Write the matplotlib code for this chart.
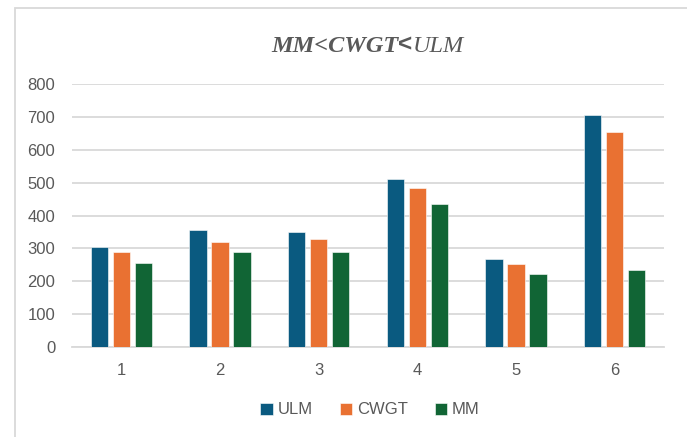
import numpy as np
import matplotlib
matplotlib.use("Agg")
import matplotlib.pyplot as plt
from matplotlib.patches import Rectangle
from matplotlib.offsetbox import TextArea, HPacker, AnnotationBbox

categories = ["1", "2", "3", "4", "5", "6"]
ulm = [305, 356, 349, 512, 266, 706]
cwgt = [290, 320, 328, 485, 252, 655]
mm = [254, 288, 290, 434, 222, 234]

series = [("ULM", ulm, "#0A5A80"), ("CWGT", cwgt, "#E97132"), ("MM", mm, "#116535")]

plt.rcParams['font.family'] = ['Liberation Sans', 'DejaVu Sans']
text_grey = "#595959"
grid_grey = "#D9D9D9"

fig = plt.figure(figsize=(6.87, 4.37), dpi=100)
ax = fig.add_axes([72/687, 1 - 346.7/437, (664 - 72)/687, (346.7 - 84.3)/437])

x = np.arange(len(categories))
width = 0.173
step = 0.223
for i, (name, vals, col) in enumerate(series):
    ax.bar(x + (i - 1)*step, vals, width, color=col, label=name,
           edgecolor="white", linewidth=0.4, zorder=3)

ax.set_xlim(-0.5, len(categories) - 0.5)
ax.set_ylim(0, 800)
ax.set_yticks(range(0, 801, 100))
ax.set_xticks(x)
ax.set_xticklabels(categories)
ax.yaxis.grid(True, color=grid_grey, linewidth=1.3, zorder=0)
for s in ["top", "right", "left"]:
    ax.spines[s].set_visible(False)
ax.spines["bottom"].set_color(grid_grey)
ax.spines["bottom"].set_linewidth(1.3)
ax.tick_params(axis="both", length=0, labelsize=12, labelcolor=text_grey)
ax.tick_params(axis="y", pad=12)
ax.tick_params(axis="x", pad=12)

leg = fig.legend(loc="center", bbox_to_anchor=(370/687, 1 - 410/437), ncol=3,
                 frameon=False, fontsize=12, handlelength=0.75, handleheight=0.75,
                 handletextpad=0.3, columnspacing=1.6)
for t in leg.get_texts():
    t.set_color(text_grey)

# title with mixed styles
serif = ['Liberation Serif', 'DejaVu Serif']
p1 = TextArea("MM<CWGT", textprops=dict(family=serif, style="italic", weight="bold",
                                        size=17.5, color=text_grey))
p2 = TextArea("<", textprops=dict(family=['Liberation Sans'], weight="bold",
                                  size=17.5, color=text_grey))
p3 = TextArea("ULM", textprops=dict(family=serif, style="italic",
                                    size=17.5, color=text_grey))
box = HPacker(children=[p1, p2, p3], pad=0, sep=0, align="baseline")
ab = AnnotationBbox(box, (367.5/687, 1 - 45/437), xycoords="figure fraction",
                    frameon=False, box_alignment=(0.5, 0.5))
fig.add_artist(ab)

# chart area border
fig.add_artist(Rectangle((15/687, -0.05), 0.99 - 15/687 + 0.02, 1 - 8/437 + 0.05,
                         transform=fig.transFigure, fill=False,
                         edgecolor=grid_grey, linewidth=1.3))

fig.savefig("out.png", dpi=100)
